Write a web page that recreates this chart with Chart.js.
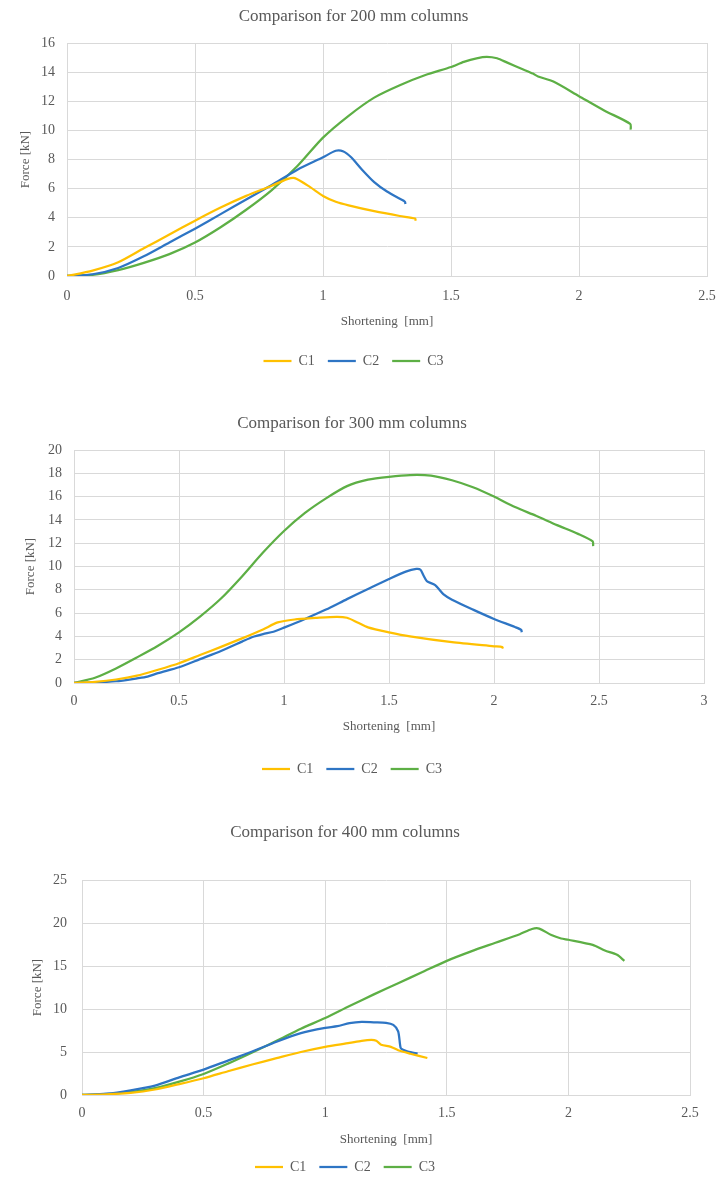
<!DOCTYPE html>
<html>
<head>
<meta charset="utf-8">
<script src="https://cdn.jsdelivr.net/npm/chart.js@4.4.1/dist/chart.umd.min.js"></script>
<style>
  html, body { margin: 0; padding: 0; background: #fff; overflow: hidden; }
  body { width: 717px; height: 1177px; position: relative; }
  .box { position: absolute; left: 0; width: 717px; }
</style>
</head>
<body>
<div class="box" style="top:0px;height:391px"><canvas id="c200"></canvas></div>
<div class="box" style="top:400px;height:391px"><canvas id="c300"></canvas></div>
<div class="box" style="top:810px;height:374px"><canvas id="c400"></canvas></div>
<script>
// series names
var seriesNames = ['C1', 'C2', 'C3'];
var seriesColors = ['#FFC000', '#2E75C4', '#5DAF45'];

// 200 mm columns - shortening [mm] / force [kN]
var c1x200 = [0, 0.1, 0.2, 0.3, 0.4, 0.5, 0.6, 0.7, 0.8, 0.86, 0.89, 0.95, 1.0, 1.05, 1.1, 1.2, 1.3, 1.36, 1.362];
var c1y200 = [0, 0.37, 0.94, 1.9, 2.85, 3.8, 4.7, 5.5, 6.2, 6.65, 6.72, 6.1, 5.5, 5.1, 4.85, 4.45, 4.12, 3.95, 3.8];
var c2x200 = [0, 0.1, 0.2, 0.3, 0.4, 0.5, 0.6, 0.7, 0.8, 0.9, 1.0, 1.05, 1.08, 1.11, 1.15, 1.2, 1.25, 1.3, 1.32, 1.322];
var c2y200 = [0, 0.12, 0.55, 1.35, 2.3, 3.25, 4.25, 5.25, 6.25, 7.3, 8.15, 8.6, 8.55, 8.15, 7.35, 6.45, 5.8, 5.3, 5.1, 4.95];
var c3x200 = [0, 0.1, 0.2, 0.3, 0.4, 0.5, 0.6, 0.7, 0.8, 0.9, 1.0, 1.1, 1.2, 1.3, 1.4, 1.5, 1.55, 1.6, 1.64, 1.68, 1.72, 1.78, 1.82, 1.84, 1.9, 2.0, 2.1, 2.2, 2.202];
var c3y200 = [0, 0.08, 0.4, 0.9, 1.5, 2.3, 3.35, 4.55, 5.9, 7.55, 9.5, 11.0, 12.25, 13.1, 13.8, 14.35, 14.7, 14.95, 15.05, 14.95, 14.65, 14.2, 13.9, 13.7, 13.35, 12.35, 11.35, 10.45, 10.05];

// 300 mm columns
var c1x300 = [0, 0.1, 0.2, 0.3, 0.4, 0.5, 0.6, 0.7, 0.8, 0.9, 0.97, 1.05, 1.15, 1.25, 1.3, 1.35, 1.4, 1.5, 1.6, 1.8, 2.0, 2.04, 2.042];
var c1y300 = [0, 0.1, 0.3, 0.63, 1.14, 1.7, 2.4, 3.1, 3.83, 4.6, 5.2, 5.45, 5.58, 5.68, 5.6, 5.2, 4.78, 4.35, 4.0, 3.5, 3.15, 3.08, 2.95];
var c2x300 = [0, 0.1, 0.2, 0.3, 0.35, 0.4, 0.5, 0.6, 0.7, 0.8, 0.85, 0.9, 0.95, 1.0, 1.1, 1.2, 1.3, 1.4, 1.5, 1.58, 1.63, 1.65, 1.665, 1.68, 1.72, 1.76, 1.8, 1.9, 2.0, 2.1, 2.13, 2.132];
var c2y300 = [0, 0.05, 0.15, 0.4, 0.55, 0.85, 1.35, 2.05, 2.75, 3.55, 3.95, 4.2, 4.4, 4.75, 5.5, 6.3, 7.2, 8.07, 8.93, 9.56, 9.79, 9.72, 9.2, 8.75, 8.4, 7.6, 7.15, 6.3, 5.5, 4.8, 4.55, 4.35];
var c3x300 = [0, 0.1, 0.2, 0.3, 0.4, 0.5, 0.6, 0.7, 0.8, 0.9, 1.0, 1.1, 1.2, 1.3, 1.4, 1.5, 1.6, 1.7, 1.8, 1.9, 2.0, 2.1, 2.2, 2.3, 2.4, 2.47, 2.472];
var c3y300 = [0, 0.45, 1.25, 2.2, 3.2, 4.35, 5.7, 7.25, 9.15, 11.2, 13.05, 14.6, 15.85, 16.9, 17.45, 17.7, 17.85, 17.8, 17.4, 16.8, 16.0, 15.1, 14.35, 13.55, 12.8, 12.15, 11.75];

// 400 mm columns
var c1x400 = [0, 0.1, 0.2, 0.3, 0.4, 0.5, 0.6, 0.7, 0.8, 0.9, 1.0, 1.1, 1.15, 1.19, 1.21, 1.23, 1.27, 1.3, 1.35, 1.42];
var c1y400 = [0, 0.08, 0.25, 0.64, 1.27, 1.95, 2.76, 3.55, 4.28, 5.0, 5.6, 6.05, 6.3, 6.4, 6.3, 5.85, 5.6, 5.2, 4.8, 4.3];
var c2x400 = [0, 0.1, 0.2, 0.3, 0.4, 0.5, 0.6, 0.7, 0.8, 0.9, 1.0, 1.05, 1.1, 1.15, 1.2, 1.25, 1.28, 1.3, 1.31, 1.32, 1.34, 1.38];
var c2y400 = [0, 0.15, 0.55, 1.1, 2.05, 2.95, 4.0, 5.05, 6.2, 7.2, 7.8, 8.0, 8.35, 8.5, 8.45, 8.4, 8.15, 7.4, 5.5, 5.25, 5.05, 4.8];
var c3x400 = [0, 0.1, 0.2, 0.3, 0.4, 0.5, 0.6, 0.7, 0.8, 0.9, 1.0, 1.1, 1.2, 1.3, 1.4, 1.5, 1.6, 1.7, 1.8, 1.85, 1.88, 1.93, 1.97, 2.0, 2.1, 2.15, 2.2, 2.23];
var c3y400 = [0, 0.1, 0.35, 0.8, 1.55, 2.45, 3.65, 4.95, 6.3, 7.7, 8.95, 10.35, 11.7, 13.0, 14.3, 15.6, 16.7, 17.7, 18.7, 19.3, 19.35, 18.6, 18.2, 18.05, 17.45, 16.8, 16.3, 15.6];

var txtColor = '#595959';
var gridColor = '#d9d9d9';
var serif = 'Liberation Serif';

function toPoints(xs, ys) {
    var pts = [];
    for (var i = 0; i < xs.length; i++) pts.push({x: xs[i], y: ys[i]});
    return pts;
}

function makeChart(id, title, xs, ys, xMax, yMax, yStep, lay) {
    var sets = [];
    for (var i = 0; i < 3; i++) {
        sets.push({
            label: seriesNames[i],
            data: toPoints(xs[i], ys[i]),
            borderColor: seriesColors[i],
            backgroundColor: seriesColors[i],
            borderWidth: 2.25,
            pointRadius: 0,
            tension: 0.25,
            fill: false
        });
    }
    return new Chart(document.getElementById(id), {
        type: 'line',
        data: {datasets: sets},
        options: {
            responsive: true,
            maintainAspectRatio: false,
            animation: false,
            layout: {padding: {left: 0, right: lay.right, top: 0, bottom: lay.bottom}},
            plugins: {
                title: {
                    display: true,
                    text: title,
                    color: txtColor,
                    font: {family: serif, size: 17, weight: 'normal'},
                    padding: {top: lay.titleTop, bottom: lay.titleBottom}
                },
                legend: {
                    position: 'bottom',
                    labels: {
                        usePointStyle: true,
                        pointStyle: 'line',
                        pointStyleWidth: 28,
                        color: txtColor,
                        padding: 13,
                        font: {family: serif, size: 14}
                    }
                },
                tooltip: {enabled: false}
            },
            scales: {
                x: {
                    type: 'linear',
                    min: 0,
                    max: xMax,
                    afterFit: function (s) { s.height = lay.xHeight; },
                    ticks: {
                        stepSize: 0.5,
                        padding: 0,
                        color: txtColor,
                        font: {family: serif, size: 14},
                        callback: function (v) { return String(v); }
                    },
                    // invisible tick marks only push the labels down
                    grid: {color: gridColor, drawTicks: true, tickLength: lay.xTickLen, tickColor: 'rgba(0,0,0,0)'},
                    border: {color: gridColor},
                    title: {
                        display: true,
                        text: 'Shortening  [mm]',
                        color: txtColor,
                        font: {family: serif, size: 13},
                        padding: {top: 0, bottom: lay.xTitlePad}
                    }
                },
                y: {
                    min: 0,
                    max: yMax,
                    afterFit: function (s) { s.width = lay.left; },
                    ticks: {
                        stepSize: yStep,
                        padding: lay.yTickPad,
                        color: txtColor,
                        font: {family: serif, size: 14}
                    },
                    grid: {color: gridColor, drawTicks: false},
                    border: {color: gridColor},
                    title: {
                        display: true,
                        text: 'Force [kN]',
                        color: txtColor,
                        font: {family: serif, size: 13},
                        padding: {top: lay.yTitlePad, bottom: 0}
                    }
                }
            }
        }
    });
}

makeChart('c200', 'Comparison for 200 mm columns',
    [c1x200, c2x200, c3x200], [c1y200, c2y200, c3y200], 2.5, 16, 2,
    {left: 67, right: 10, bottom: 13, titleTop: 6, titleBottom: 16.6, xHeight: 65, xTickLen: 12, xTitlePad: 12, yTitlePad: 18, yTickPad: 12});

makeChart('c300', 'Comparison for 300 mm columns',
    [c1x300, c2x300, c3x300], [c1y300, c2y300, c3y300], 3, 20, 2,
    {left: 74, right: 13, bottom: 5, titleTop: 13, titleBottom: 16.6, xHeight: 66, xTickLen: 10, xTitlePad: 15, yTitlePad: 23, yTickPad: 12});

makeChart('c400', 'Comparison for 400 mm columns',
    [c1x400, c2x400, c3x400], [c1y400, c2y400, c3y400], 2.5, 25, 5,
    {left: 82, right: 27, bottom: 0, titleTop: 12, titleBottom: 37.6, xHeight: 52, xTickLen: 10, xTitlePad: 0, yTitlePad: 30, yTickPad: 15});
</script>
</body>
</html>
